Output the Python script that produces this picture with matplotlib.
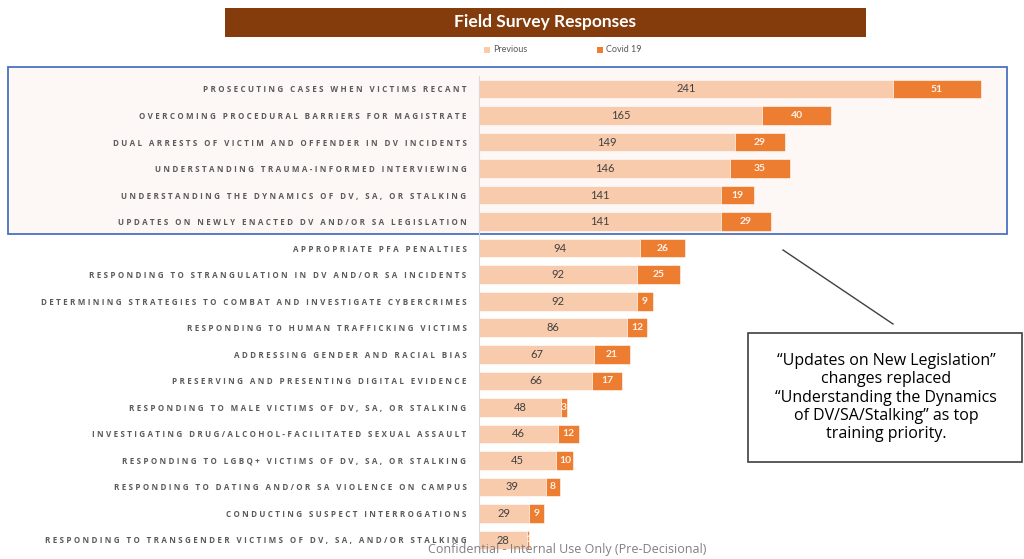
import matplotlib
matplotlib.use("Agg")
import matplotlib.pyplot as plt
from matplotlib.patches import Rectangle

categories = [
    "Prosecuting cases when victims recant",
    "Overcoming procedural barriers for magistrate",
    "Dual arrests of victim and offender in DV incidents",
    "Understanding trauma-informed interviewing",
    "Understanding the dynamics of DV, SA, or stalking",
    "Updates on newly enacted DV and/or SA legislation",
    "Appropriate PFA penalties",
    "Responding to strangulation in DV and/or SA incidents",
    "Determining strategies to combat and investigate cybercrimes",
    "Responding to human trafficking victims",
    "Addressing gender and racial bias",
    "Preserving and presenting digital evidence",
    "Responding to male victims of DV, SA, or stalking",
    "Investigating drug/alcohol-facilitated sexual assault",
    "Responding to LGBQ+ victims of DV, SA, or stalking",
    "Responding to dating and/or SA violence on campus",
    "Conducting suspect interrogations",
    "Responding to transgender victims of DV, SA, and/or stalking",
]
previous = [241, 165, 149, 146, 141, 141, 94, 92, 92, 86, 67, 66, 48, 46, 45, 39, 29, 28]
covid19 = [51, 40, 29, 35, 19, 29, 26, 25, 9, 12, 21, 17, 3, 12, 10, 8, 9, 1]
series_names = ["Previous", "Covid 19"]
title = "Field Survey Responses"
note = ("\u201cUpdates on New Legislation\u201d\nchanges replaced\n"
        "\u201cUnderstanding the Dynamics\nof DV/SA/Stalking\u201d as top\ntraining priority.")
footer = "Confidential - Internal Use Only (Pre-Decisional)"

W, H = 1024, 559
fig = plt.figure(figsize=(W / 100, H / 100), dpi=100)
fig.patch.set_facecolor("white")

def fx(x):
    return x / W

def fy(y):
    return 1 - y / H

c_prev = "#F8CBAD"
c_cov = "#ED7D31"

# light background and blue highlight box (behind the axes)
fig.patches.append(Rectangle((fx(8), fy(234)), fx(1007) - fx(8), fy(67) - fy(234),
                             transform=fig.transFigure, facecolor="#FDF8F6",
                             edgecolor="#4A72C0", lw=1.3, zorder=-5))

n = len(categories)
top_y, bot_y = 89, 540
step = (bot_y - top_y) / (n - 1)
ax_left, ax_right = 479, 479 + 300 * (414 / 241)
ax = fig.add_axes([fx(ax_left), fy(bot_y + step / 2), fx(ax_right) - fx(ax_left),
                   fy(top_y - step / 2) - fy(bot_y + step / 2)])
ax.set_zorder(1)
ax.patch.set_alpha(0)
ypos = list(range(n))
ax.barh(ypos, previous, height=0.7, color=c_prev, edgecolor="white", lw=0.4)
ax.barh(ypos, covid19, left=previous, height=0.7, color=c_cov, edgecolor="white", lw=0.4)
ax.set_xlim(0, 300)
ax.set_ylim(n - 0.5, -0.5)
for s in ["top", "right", "bottom"]:
    ax.spines[s].set_visible(False)
ax.spines["left"].set_color("#D9D9D9")
ax.set_xticks([])

def spaced(s):
    return "\u2009\u200a".join(s.upper())

ax.set_yticks(ypos)
ax.set_yticklabels([spaced(c) for c in categories], fontsize=5.8, color="#5A5A5A",
                   fontweight="bold", family=["Open Sans", "DejaVu Sans"])
ax.tick_params(axis="y", length=0, pad=9)

for i, (p, c) in enumerate(zip(previous, covid19)):
    ax.text(p / 2, i, str(p), ha="center", va="center", fontsize=8, color="#404040",
            family="Lato")
    ax.text(p + c / 2, i, str(c), ha="center", va="center", fontsize=7.5,
            color="#FFF2EA", family="Lato", fontweight="bold")

# title banner
fig.patches.append(Rectangle((fx(225), fy(37)), fx(866) - fx(225), fy(8) - fy(37),
                             transform=fig.transFigure, facecolor="#843C0C",
                             edgecolor="none", zorder=1))
fig.text(fx(545), fy(22.5), title, ha="center", va="center", color="white",
         fontsize=12.5, fontweight="bold", family="Lato", zorder=2)

# legend
for (x, name, col) in [(484, series_names[0], c_prev), (597, series_names[1], c_cov)]:
    fig.patches.append(Rectangle((fx(x), fy(52.5)), fx(6) - fx(0), fy(0) - fy(6),
                                 transform=fig.transFigure, facecolor=col,
                                 edgecolor="none"))
    fig.text(fx(x + 9), fy(49.5), name, ha="left", va="center", fontsize=6.5,
             color="#595959", family="Lato")

# annotation line and box
fig.lines.append(plt.Line2D([fx(783), fx(893)], [fy(250), fy(324)],
                            transform=fig.transFigure, color="#404040", lw=1))
fig.patches.append(Rectangle((fx(748), fy(462)), fx(1022) - fx(748), fy(333) - fy(462),
                             transform=fig.transFigure, facecolor="white",
                             edgecolor="#404040", lw=1.2, zorder=2))
fig.text(fx(886), fy(397.5), note, ha="center", va="center", fontsize=11.5,
         color="black", family="Open Sans", linespacing=1.2, zorder=3)

fig.text(fx(567), fy(550), footer, ha="center", va="center", fontsize=9,
         color="#808080", family="Open Sans", zorder=3)

fig.savefig("out.png", dpi=100, facecolor="white")
